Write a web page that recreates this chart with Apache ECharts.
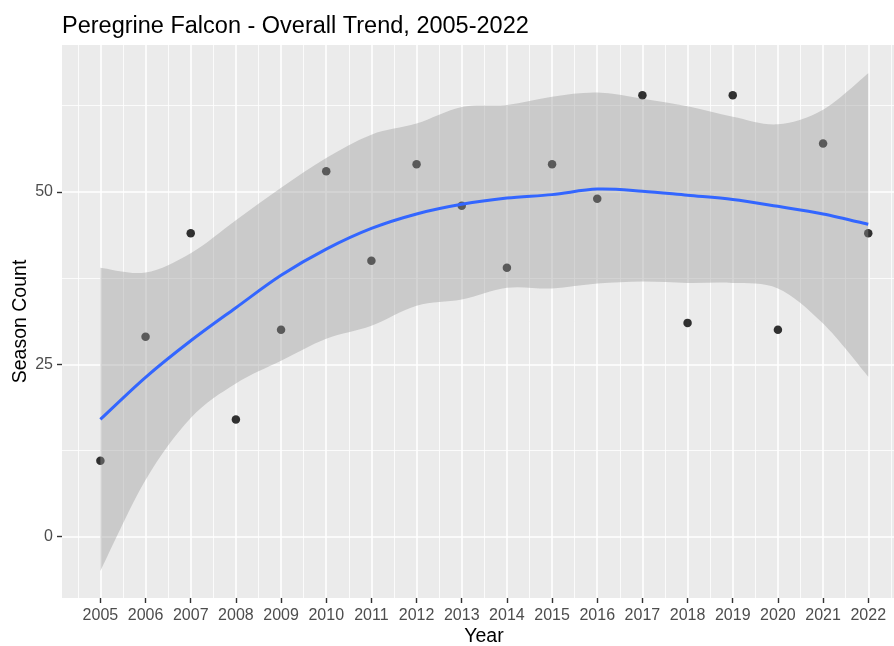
<!DOCTYPE html>
<html>
<head>
<meta charset="utf-8">
<script src="https://cdn.jsdelivr.net/npm/echarts@6/dist/echarts.min.js"></script>
<style>
html,body{margin:0;padding:0;background:#fff;}
#chart{width:894px;height:646px;}
</style>
</head>
<body>
<div id="chart"></div>
<script>
const years  = [2005,2006,2007,2008,2009,2010,2011,2012,2013,2014,2015,2016,2017,2018,2019,2020,2021,2022];
const counts = [11,29,44,17,30,53,40,54,48,39,54,49,64,31,64,30,57,44];
const trend  = [17.0,23.1,28.4,33.2,37.9,41.7,44.7,46.8,48.2,49.1,49.6,50.4,50.1,49.5,48.9,47.9,46.8,45.3];
const upper  = [39.0,38.3,41.1,45.9,50.6,54.9,58.3,59.9,62.3,62.6,63.8,64.4,63.5,62.4,60.9,59.8,61.9,67.2];
const lower  = [-5.0,8.2,17.2,22.2,25.5,28.7,30.6,33.5,34.4,36.1,36.0,36.7,37.0,36.8,36.8,36.0,30.9,23.2];
const xMajorTicks = [2005,2006,2007,2008,2009,2010,2011,2012,2013,2014,2015,2016,2017,2018,2019,2020,2021,2022];
const xMinorTicks = [2004.5,2005.5,2006.5,2007.5,2008.5,2009.5,2010.5,2011.5,2012.5,2013.5,2014.5,2015.5,2016.5,2017.5,2018.5,2019.5,2020.5,2021.5,2022.5];
const yMajorTicks = [0,25,50];
const yMinorTicks = [12.5,37.5,62.5];

const FONT = '"Liberation Sans", Arial, Helvetica, sans-serif';
const pairs = (ys) => years.map((y, i) => [y, ys[i]]);

const X_MIN = 2004.15, X_MAX = 2022.57, Y_MIN = -8.9, Y_MAX = 71.3;

// Catmull-Rom spline through pixel points -> SVG cubic segments
function splineSegments(pts) {
  let d = '';
  for (let i = 0; i < pts.length - 1; i++) {
    const p0 = pts[Math.max(i - 1, 0)], p1 = pts[i], p2 = pts[i + 1], p3 = pts[Math.min(i + 2, pts.length - 1)];
    const c1 = [p1[0] + (p2[0] - p0[0]) / 6, p1[1] + (p2[1] - p0[1]) / 6];
    const c2 = [p2[0] - (p3[0] - p1[0]) / 6, p2[1] - (p3[1] - p1[1]) / 6];
    d += ' C' + c1[0].toFixed(2) + ' ' + c1[1].toFixed(2) + ' ' + c2[0].toFixed(2) + ' ' + c2[1].toFixed(2) + ' ' + p2[0].toFixed(2) + ' ' + p2[1].toFixed(2);
  }
  return d;
}

function renderBand(params, api) {
  const up = years.map((y, i) => api.coord([y, upper[i]]));
  const lo = years.map((y, i) => api.coord([y, lower[i]])).reverse();
  const d = 'M' + up[0][0].toFixed(2) + ' ' + up[0][1].toFixed(2) + splineSegments(up) +
            ' L' + lo[0][0].toFixed(2) + ' ' + lo[0][1].toFixed(2) + splineSegments(lo) + ' Z';
  return {
    type: 'path',
    shape: {pathData: d},
    style: {fill: 'rgba(153,153,153,0.4)', stroke: null}
  };
}

function renderTrend(params, api) {
  const pts = years.map((y, i) => api.coord([y, trend[i]]));
  const d = 'M' + pts[0][0].toFixed(2) + ' ' + pts[0][1].toFixed(2) + splineSegments(pts);
  return {
    type: 'path',
    shape: {pathData: d},
    style: {fill: null, stroke: '#3366FF', lineWidth: 3, lineJoin: 'round'}
  };
}

const chart = echarts.init(document.getElementById('chart'), null, {renderer: 'canvas'});
chart.setOption({
  animation: false,
  backgroundColor: '#ffffff',
  title: {
    text: 'Peregrine Falcon - Overall Trend, 2005-2022',
    left: 57, top: 10,
    textStyle: {fontFamily: FONT, fontSize: 23.5, fontWeight: 'normal', color: '#000000'}
  },
  grid: {left: 62, right: 0, top: 45, bottom: 48, show: true, backgroundColor: '#EBEBEB', borderWidth: 0, containLabel: false, outerBoundsMode: 'none'},
  xAxis: [
    {
      type: 'value', min: X_MIN, max: X_MAX, position: 'bottom',
      name: 'Year', nameLocation: 'middle', nameGap: 29, nameMoveOverlap: false,
      nameTextStyle: {fontFamily: FONT, fontSize: 19.5, color: '#000000', padding: [0, 0, 0, 12]},
      axisLine: {show: true, onZero: false, lineStyle: {color: '#333333', opacity: 0}},
      axisTick: {show: true, inside: false, length: 5, lineStyle: {color: '#333333', width: 1.4, opacity: 1}, customValues: xMajorTicks},
      axisLabel: {show: true, margin: 10, fontFamily: FONT, fontSize: 16, color: '#4D4D4D', customValues: xMajorTicks, formatter: v => String(Math.round(v))},
      splitLine: {show: true, lineStyle: {color: '#FFFFFF', width: 1.6}}
    },
    {
      type: 'value', min: X_MIN, max: X_MAX, position: 'bottom',
      axisLine: {show: false, onZero: false},
      axisTick: {show: false, customValues: xMinorTicks},
      axisLabel: {show: false},
      splitLine: {show: true, lineStyle: {color: '#FFFFFF', width: 0.8}}
    }
  ],
  yAxis: [
    {
      type: 'value', min: Y_MIN, max: Y_MAX, position: 'left',
      name: 'Season Count', nameLocation: 'middle', nameGap: 31, nameRotate: 90, nameMoveOverlap: false,
      nameTextStyle: {fontFamily: FONT, fontSize: 19.5, color: '#000000'},
      axisLine: {show: true, onZero: false, lineStyle: {color: '#333333', opacity: 0}},
      axisTick: {show: true, inside: false, length: 5, lineStyle: {color: '#333333', width: 1.4, opacity: 1}, customValues: yMajorTicks},
      axisLabel: {show: true, margin: 9, fontFamily: FONT, fontSize: 16, color: '#4D4D4D', customValues: yMajorTicks},
      splitLine: {show: true, lineStyle: {color: '#FFFFFF', width: 1.6}}
    },
    {
      type: 'value', min: Y_MIN, max: Y_MAX, position: 'left',
      axisLine: {show: false, onZero: false},
      axisTick: {show: false, customValues: yMinorTicks},
      axisLabel: {show: false},
      splitLine: {show: true, lineStyle: {color: '#FFFFFF', width: 0.8}}
    }
  ],
  series: [
    {
      name: 'Season Count', type: 'scatter', xAxisIndex: 0, yAxisIndex: 0,
      data: pairs(counts), symbol: 'circle', symbolSize: 8.5,
      itemStyle: {color: '#000000'}, z: 2, silent: true
    },
    {
      name: 'Confidence band', type: 'custom', xAxisIndex: 0, yAxisIndex: 0,
      coordinateSystem: 'cartesian2d', renderItem: renderBand,
      data: [[years[0], upper[0]]], clip: true, z: 3, silent: true
    },
    {
      name: 'Trend', type: 'custom', xAxisIndex: 0, yAxisIndex: 0,
      coordinateSystem: 'cartesian2d', renderItem: renderTrend,
      data: [[years[0], trend[0]]], clip: true, z: 4, silent: true
    }
  ]
});
</script>
</body>
</html>
